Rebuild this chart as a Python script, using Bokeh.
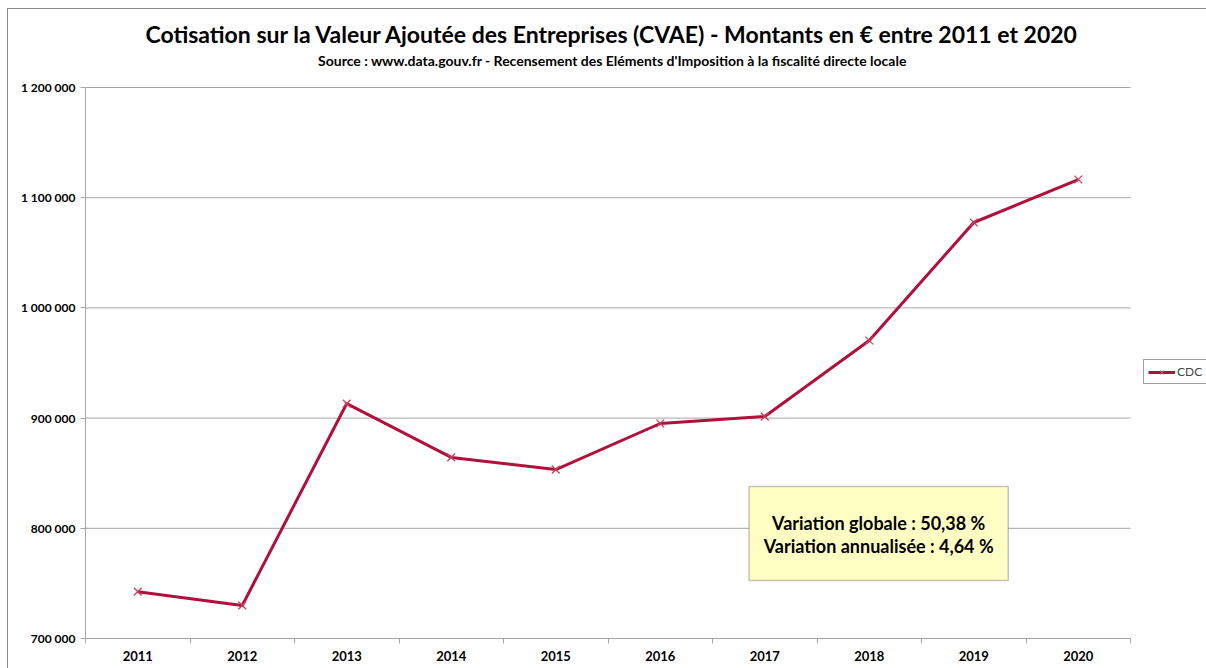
from bokeh.plotting import figure
from bokeh.models import (FixedTicker, Legend, LegendItem, BoxAnnotation, Label)
from bokeh.embed import file_html
from bokeh.resources import INLINE

# ---- data ----
years = [2011, 2012, 2013, 2014, 2015, 2016, 2017, 2018, 2019, 2020]
cdc = [742500, 730000, 913200, 864300, 853300, 895100, 901400, 970400, 1077500, 1116500]
y_ticks = [700000, 800000, 900000, 1000000, 1100000, 1200000]
y_tick_labels = ["700 000", "800 000", "900 000", "1 000 000", "1 100 000", "1 200 000"]
series_name = "CDC"
title_text = "Cotisation sur la Valeur Ajoutée des Entreprises (CVAE) - Montants en € entre 2011 et 2020"
subtitle_text = "Source : www.data.gouv.fr - Recensement des Eléments d'Imposition à la fiscalité directe locale"
note_lines = ["Variation globale : 50,38 %", "Variation annualisée : 4,64 %"]

FONT = "Lato"
LINE_COL = "#B0103A"
GRID_COL = "#A6A6A6"
BORDER_COL = "#8C8C8C"

x_start = years[0] - 0.5
x_plot_end = years[-1] + 0.5
x_end = x_plot_end + 0.727      # room on the right for the legend
y_top_room = 78950              # room above the plot area for the titles

p = figure(width=1206, height=668, output_backend="svg", toolbar_location=None,
           x_range=(x_start, x_end), y_range=(y_ticks[0], y_ticks[-1] + y_top_room),
           min_border_left=85, min_border_right=0, min_border_top=0, min_border_bottom=30,
           title=None)
p.outline_line_color = None
p.border_fill_color = None
p.background_fill_color = None
p.styles = {
    "background-color": "white",
    "background-image": f"linear-gradient({BORDER_COL},{BORDER_COL}), linear-gradient({BORDER_COL},{BORDER_COL})",
    "background-size": "1px 100%, 100% 1px",
    "background-position": "7px 8px, 7px 8px",
    "background-repeat": "no-repeat",
}

# titles (screen units relative to the plotting frame, y from its bottom)
p.add_layout(Label(x=527, y=605, x_units="screen", y_units="screen", text=title_text,
                   text_align="center", text_baseline="middle", text_font=FONT,
                   text_font_size="23px", text_font_style="bold", text_color="#000000"))
p.add_layout(Label(x=527, y=578, x_units="screen", y_units="screen", text=subtitle_text,
                   text_align="center", text_baseline="middle", text_font=FONT,
                   text_font_size="14px", text_font_style="bold", text_color="#000000"))

# axes
p.xaxis.ticker = FixedTicker(ticks=years, minor_ticks=[y - 0.5 for y in years] + [x_plot_end])
p.xaxis.bounds = (x_start, x_plot_end)
p.xaxis.major_tick_out = 0
p.xaxis.major_tick_in = 0
p.xaxis.minor_tick_out = 5
p.xaxis.minor_tick_in = 0
p.xaxis.minor_tick_line_color = GRID_COL
p.xaxis.axis_line_color = GRID_COL
p.xaxis.major_label_standoff = 7
p.xaxis.major_label_text_font = FONT
p.xaxis.major_label_text_font_style = "bold"
p.xaxis.major_label_text_font_size = "13px"
p.xaxis.major_label_text_color = "#000000"

p.yaxis.ticker = FixedTicker(ticks=y_ticks)
p.yaxis.bounds = (y_ticks[0], y_ticks[-1])
p.yaxis.major_label_overrides = {t: l for t, l in zip(y_ticks, y_tick_labels)}
p.yaxis.major_tick_out = 5
p.yaxis.major_tick_in = 0
p.yaxis.minor_tick_line_color = None
p.yaxis.major_tick_line_color = GRID_COL
p.yaxis.axis_line_color = GRID_COL
p.yaxis.major_label_standoff = 5
p.yaxis.major_label_text_font = FONT
p.yaxis.major_label_text_font_style = "bold"
p.yaxis.major_label_text_font_size = "12px"
p.yaxis.major_label_text_color = "#000000"

# horizontal grid lines limited to the plotting area
p.xgrid.grid_line_color = None
p.ygrid.grid_line_color = None
grid_y = y_ticks[1:]
p.segment(x0=[x_start] * len(grid_y), x1=[x_plot_end] * len(grid_y), y0=grid_y, y1=grid_y,
          line_color=GRID_COL, line_width=1)

# series
ln = p.line(years, cdc, line_color=LINE_COL, line_width=3)
mk = p.scatter(years, cdc, marker="x", size=11, line_color="#C8405F", line_width=1.3)

legend = Legend(items=[LegendItem(label=series_name, renderers=[ln, mk])],
                location=(1058, 254), label_text_font=FONT, label_text_font_size="12px",
                glyph_width=27, glyph_height=12, padding=4, margin=0, spacing=0,
                label_standoff=2, border_line_color="#404040", border_line_width=1,
                label_height=12, background_fill_color="white", background_fill_alpha=1)
p.add_layout(legend, "center")

# note box
box = BoxAnnotation(left=2016.85, right=2019.33, bottom=752600, top=837900,
                    fill_color="#FFFFC4", fill_alpha=1, line_color="#404040", line_width=1.5)
p.add_layout(box)
for txt, yv in zip(note_lines, [804400, 783500]):
    p.add_layout(Label(x=2018.09, y=yv, text=txt, text_align="center", text_baseline="middle",
                       text_font=FONT, text_font_style="bold", text_font_size="18px",
                       text_color="#000000"))

open("out.html", "w").write(file_html(p, INLINE))
